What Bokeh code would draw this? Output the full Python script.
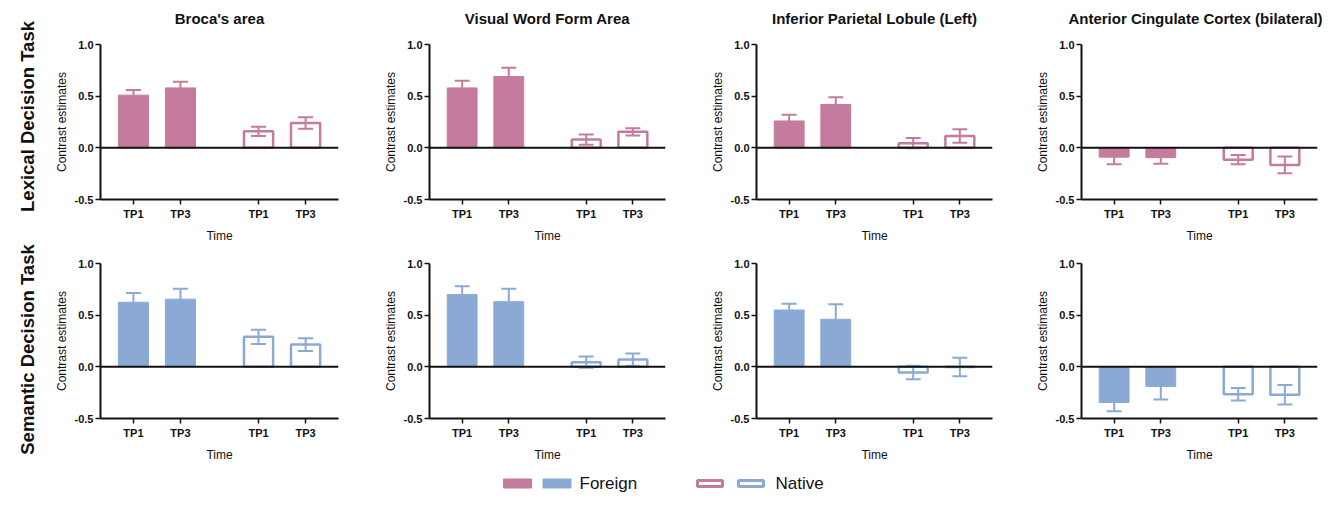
import numpy as np
from bokeh.plotting import figure
from bokeh.layouts import column, row
from bokeh.models import Range1d, FixedTicker, Span, PrintfTickFormatter
from bokeh.core.properties import value
from bokeh.embed import file_html
from bokeh.resources import INLINE

# ---------------- data ----------------
regions = ["Broca's area", "Visual Word Form Area",
           "Inferior Parietal Lobule (Left)", "Anterior Cingulate Cortex (bilateral)"]
tasks = ["Lexical Decision Task", "Semantic Decision Task"]
groups = ["Foreign", "Native"]
time_labels = ["TP1", "TP3", "TP1", "TP3"]
y_ticks = [-0.5, 0.0, 0.5, 1.0]

# per region: [TP1, TP3]
lex_foreign_mean = [[0.51, 0.58], [0.58, 0.69], [0.26, 0.42], [-0.09, -0.095]]
lex_foreign_err = [[0.05, 0.06], [0.07, 0.085], [0.06, 0.07], [0.07, 0.06]]
lex_native_mean = [[0.16, 0.24], [0.08, 0.155], [0.045, 0.115], [-0.115, -0.165]]
lex_native_err = [[0.045, 0.055], [0.05, 0.035], [0.05, 0.065], [0.045, 0.08]]

sem_foreign_mean = [[0.625, 0.655], [0.70, 0.63], [0.55, 0.46], [-0.345, -0.19]]
sem_foreign_err = [[0.09, 0.10], [0.08, 0.125], [0.06, 0.145], [0.085, 0.125]]
sem_native_mean = [[0.29, 0.215], [0.045, 0.07], [-0.055, -0.002], [-0.265, -0.27]]
sem_native_err = [[0.07, 0.062], [0.055, 0.06], [0.065, 0.09], [0.06, 0.095]]

task_colors = ["#c47b9e", "#8aaad5"]

# ---------------- layout constants ----------------
FONT = "Liberation Sans"
INK = "#111111"
X_POS = [0, 50, 133, 183]
X_RANGE = (-35, 218)
BAR_W = 33
CAP = 8
TOTAL_W, TOTAL_H = 1325, 493
LABEL_W = 40
TITLE_H = 36
LEG_H = 29
frame_widths = [238, 236, 236, 236]
panel_left = [60, 81, 81, 81]
panel_right = [10, 10, 8, 8]
title_shift = [0, 0, 0, -4]
FRAME_H = 155
row_tops = [8, 18]
BOTTOM = 46
label_centers_from_top = [116, 349]


def style_axes(p):
    for ax in (p.xaxis[0], p.yaxis[0]):
        ax.axis_line_width = 2
        ax.axis_line_color = INK
        ax.major_tick_line_width = 1.5
        ax.major_tick_line_color = INK
        ax.major_tick_out = 5
        ax.major_tick_in = 0
        ax.minor_tick_line_color = None
        ax.major_label_text_font = FONT
        ax.major_label_text_font_style = "bold"
        ax.major_label_text_font_size = "11px"
        ax.major_label_text_color = INK
        ax.axis_label_text_font = FONT
        ax.axis_label_text_font_style = "normal"
        ax.axis_label_text_color = INK
    p.xaxis[0].major_label_standoff = 3
    p.yaxis[0].major_label_standoff = 2
    p.xaxis[0].axis_label_standoff = 6
    p.yaxis[0].axis_label_standoff = 3
    p.xaxis[0].axis_label_text_font_size = "12px"
    p.yaxis[0].axis_label_text_font_size = "12px"


def blank(p):
    p.outline_line_color = None
    p.xgrid.visible = False
    p.ygrid.visible = False
    return p


def panel(ti, ri, fm, fe, nm, ne):
    color = task_colors[ti]
    p = figure(frame_width=frame_widths[ri], frame_height=FRAME_H,
               x_range=Range1d(*X_RANGE), y_range=Range1d(-0.5, 1.0),
               output_backend="svg", toolbar_location=None,
               min_border_left=panel_left[ri], min_border_right=panel_right[ri],
               min_border_top=row_tops[ti], min_border_bottom=BOTTOM)
    blank(p)
    fx = X_POS[:2]
    nx = X_POS[2:]
    # bars
    p.vbar(x=fx, top=fm, bottom=0, width=BAR_W - 1, fill_color=color,
           line_color=color, line_width=1)
    p.vbar(x=nx, top=nm, bottom=0, width=BAR_W - 2, fill_color="white",
           line_color=color, line_width=2.5)
    # foreign error bars (away from zero)
    f_end = [m + e * (1 if m >= 0 else -1) for m, e in zip(fm, fe)]
    p.segment(x0=fx, y0=fm, x1=fx, y1=f_end, line_color=color, line_width=2)
    p.segment(x0=[x - CAP for x in fx], y0=f_end, x1=[x + CAP for x in fx], y1=f_end,
              line_color=color, line_width=2)
    # native error bars (both directions)
    n_lo = [m - e for m, e in zip(nm, ne)]
    n_hi = [m + e for m, e in zip(nm, ne)]
    p.segment(x0=nx, y0=n_lo, x1=nx, y1=n_hi, line_color=color, line_width=2)
    p.segment(x0=[x - CAP for x in nx], y0=n_lo, x1=[x + CAP for x in nx], y1=n_lo,
              line_color=color, line_width=2)
    p.segment(x0=[x - CAP for x in nx], y0=n_hi, x1=[x + CAP for x in nx], y1=n_hi,
              line_color=color, line_width=2)

    p.add_layout(Span(location=0, dimension="width", line_color=INK, line_width=2))

    p.xaxis.ticker = FixedTicker(ticks=X_POS)
    p.xaxis.major_label_overrides = {x: lab for x, lab in zip(X_POS, time_labels)}
    p.yaxis.ticker = FixedTicker(ticks=y_ticks)
    p.yaxis.formatter = PrintfTickFormatter(format="%.1f")
    p.xaxis.axis_label = "Time"
    p.yaxis.axis_label = "Contrast estimates"
    style_axes(p)
    return p


# ---- row labels (left strip spanning the full height) ----
lab = blank(figure(width=LABEL_W, height=TOTAL_H, x_range=Range1d(0, LABEL_W),
                   y_range=Range1d(0, TOTAL_H), output_backend="svg",
                   toolbar_location=None, min_border=0,
                   x_axis_location=None, y_axis_location=None))
lab.text(x=[27, 27], y=[TOTAL_H - c for c in label_centers_from_top], text=tasks,
         angle=np.pi / 2, text_align="center", text_baseline="middle",
         text_font=value(FONT), text_font_size="18.5px", text_font_style="bold",
         text_color=INK)

# ---- panel titles strip ----
centers = []
edge = LABEL_W
for ri in range(4):
    centers.append(edge + panel_left[ri] + frame_widths[ri] / 2 + title_shift[ri])
    edge += panel_left[ri] + frame_widths[ri] + panel_right[ri]
tit = blank(figure(width=TOTAL_W - LABEL_W, height=TITLE_H,
                   x_range=Range1d(LABEL_W, TOTAL_W), y_range=Range1d(0, TITLE_H),
                   output_backend="svg", toolbar_location=None, min_border=0,
                   x_axis_location=None, y_axis_location=None))
tit.text(x=centers, y=[TITLE_H - 18] * 4, text=regions, text_align="center",
         text_baseline="middle", text_font=value(FONT), text_font_size="15px",
         text_font_style="bold", text_color=INK)

data = [
    (lex_foreign_mean, lex_foreign_err, lex_native_mean, lex_native_err),
    (sem_foreign_mean, sem_foreign_err, sem_native_mean, sem_native_err),
]

rows = []
for ti in range(2):
    fm, fe, nm, ne = data[ti]
    rows.append(row(*[panel(ti, ri, fm[ri], fe[ri], nm[ri], ne[ri]) for ri in range(4)]))

# ---- legend ----
leg = blank(figure(width=TOTAL_W - LABEL_W, height=LEG_H, x_range=Range1d(LABEL_W, TOTAL_W),
                   y_range=Range1d(0, LEG_H), output_backend="svg", toolbar_location=None,
                   min_border=0, x_axis_location=None, y_axis_location=None))
ly = LEG_H - 19
leg.rect(x=[517, 556.5], y=[ly, ly], width=28, height=9, fill_color=task_colors,
         line_color=task_colors)
leg.rect(x=[709.5, 750.5], y=[ly, ly], width=25, height=6, fill_color="white",
         line_color=task_colors, line_width=3)
leg.text(x=[579, 775], y=[ly, ly], text=groups, text_align="left", text_baseline="middle",
         text_font=value(FONT), text_font_size="17px", text_color=INK)

layout = row(lab, column(tit, rows[0], rows[1], leg))
open("out.html", "w").write(file_html(layout, INLINE))
